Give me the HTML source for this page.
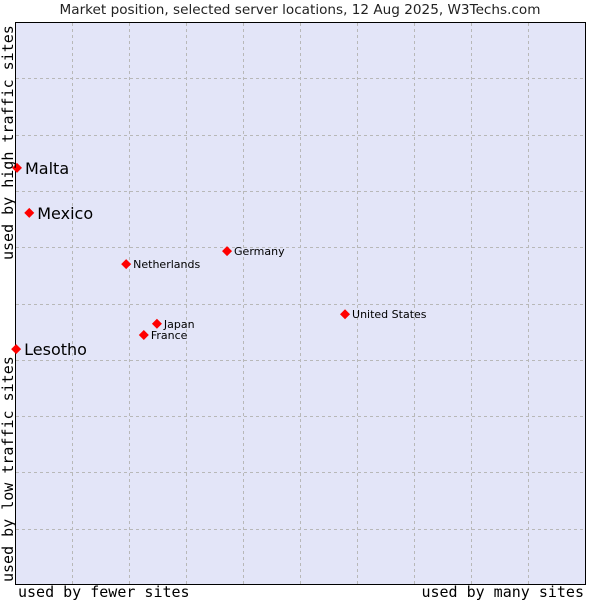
<!DOCTYPE html>
<html><head><meta charset="utf-8"><style>
body{margin:0;background:#fff;width:600px;height:600px;overflow:hidden}
svg text{font-family:"DejaVu Sans","Liberation Sans",sans-serif}
.mono{font-family:"DejaVu Sans Mono","Liberation Mono",monospace !important}
</style></head><body>
<svg id="chart" width="600" height="600">
<text x="300" y="14" text-anchor="middle" font-size="13.6" fill="#222">Market position, selected server locations, 12 Aug 2025, W3Techs.com</text>
<rect x="15.5" y="22.5" width="570" height="562" fill="#e3e5f8" stroke="#000"/>
<g id="grid"></g>
<g id="points"></g>
<text class="mono" x="18" y="597" font-size="15" fill="#000">used by fewer sites</text>
<text class="mono" x="584" y="597" font-size="15" text-anchor="end" fill="#000">used by many sites</text>
<text class="mono" transform="translate(13,260) rotate(-90)" font-size="15" fill="#000">used by high traffic sites</text>
<text class="mono" transform="translate(13,582) rotate(-90)" font-size="15" fill="#000">used by low traffic sites</text>
</svg>
<script>
const names=["Malta","Mexico","Lesotho","Netherlands","Germany","United States","Japan","France"];
const xVals=[0.35,2.5,0.2,19.5,37.2,57.9,24.9,22.6];
const yVals=[74.1,66.1,41.9,57.0,59.3,48.1,46.4,44.4];
const big=[true,true,true,false,false,false,false,false];
const gridTicks=[10,20,30,40,50,60,70,80,90];
const L=15,T=22,W=570,H=563;
const sx=v=>L+v/100*W, sy=v=>T+H-v/100*H;
const ns="http://www.w3.org/2000/svg";
const g=document.getElementById('grid'),p=document.getElementById('points');
gridTicks.forEach(t=>{
 let a=document.createElementNS(ns,'line');
 a.setAttribute('x1',Math.round(sx(t))+.5);a.setAttribute('x2',Math.round(sx(t))+.5);a.setAttribute('y1',T+1);a.setAttribute('y2',T+H);
 a.setAttribute('stroke','#b8b8b8');a.setAttribute('stroke-dasharray','3,3');
 
 
 g.appendChild(a);
 let b=document.createElementNS(ns,'line');
 b.setAttribute('y1',Math.round(sy(t))+.5);b.setAttribute('y2',Math.round(sy(t))+.5);b.setAttribute('x1',L+1);b.setAttribute('x2',L+W);
 b.setAttribute('stroke','#b8b8b8');b.setAttribute('stroke-dasharray','3,3');
 
 
 g.appendChild(b);
});
names.forEach((n,i)=>{
 const x=sx(xVals[i]),y=sy(yVals[i]);
 let d=document.createElementNS(ns,'polygon');
 d.setAttribute('points',`${x},${y-5} ${x+5},${y} ${x},${y+5} ${x-5},${y}`);
 d.setAttribute('fill','#f00');
 
 
 p.appendChild(d);
 let t=document.createElementNS(ns,'text');
 t.setAttribute('x',x+(big[i]?8:7));t.setAttribute('y',y+(big[i]?6:4));
 t.setAttribute('font-size',big[i]?16:11);t.setAttribute('fill','#000');
 t.textContent=n;
 
 
 p.appendChild(t);
});
</script>
</body></html>
